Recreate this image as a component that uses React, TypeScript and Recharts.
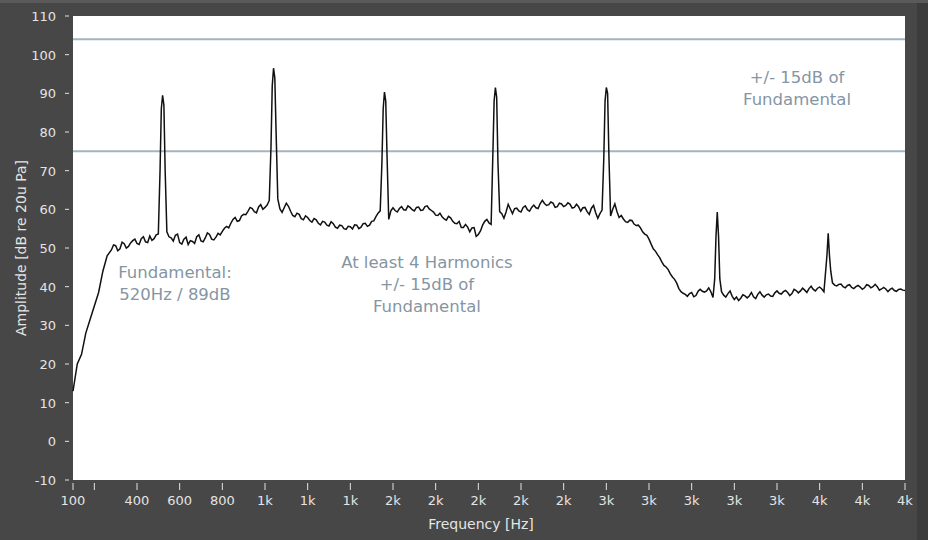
import { LineChart, Line, XAxis, YAxis, CartesianGrid, ReferenceLine, ReferenceDot, Label } from 'recharts'

// spectrum (Hz / dB re 20uPa)
const freqHz = [
  100, 120, 140, 160, 180, 200, 220, 240, 260, 280,
  300, 320, 340, 360, 380, 400, 420, 440, 460, 480,
  500, 508, 514, 520, 526, 532, 540, 560, 580, 600,
  620, 640, 660, 680, 700, 720, 740, 760, 780, 800,
  820, 840, 860, 880, 900, 920, 940, 960, 980, 1000,
  1020, 1028, 1034, 1040, 1046, 1052, 1060, 1080, 1100, 1120,
  1140, 1160, 1180, 1200, 1220, 1240, 1260, 1280, 1300, 1320,
  1340, 1360, 1380, 1400, 1420, 1440, 1460, 1480, 1500, 1520,
  1540, 1548, 1554, 1560, 1566, 1572, 1580, 1600, 1620, 1640,
  1660, 1680, 1700, 1720, 1740, 1760, 1780, 1800, 1820, 1840,
  1860, 1880, 1900, 1920, 1940, 1960, 1980, 2000, 2020, 2040,
  2060, 2068, 2074, 2080, 2086, 2092, 2100, 2120, 2140, 2160,
  2180, 2200, 2220, 2240, 2260, 2280, 2300, 2320, 2340, 2360,
  2380, 2400, 2420, 2440, 2460, 2480, 2500, 2520, 2540, 2560,
  2580, 2588, 2594, 2600, 2606, 2612, 2620, 2640, 2660, 2680,
  2700, 2720, 2740, 2760, 2780, 2800, 2820, 2840, 2860, 2880,
  2900, 2920, 2940, 2960, 2980, 3000, 3020, 3040, 3060, 3080,
  3100, 3108, 3114, 3120, 3126, 3132, 3140, 3160, 3180, 3200,
  3220, 3240, 3260, 3280, 3300, 3320, 3340, 3360, 3380, 3400,
  3420, 3440, 3460, 3480, 3500, 3520, 3540, 3560, 3580, 3600,
  3620, 3628, 3634, 3640, 3646, 3652, 3660, 3680, 3700, 3720,
  3740, 3760, 3780, 3800, 3820, 3840, 3860, 3880, 3900, 3920,
  3940, 3960, 3980, 4000,
]

const levelDb = [
  13, 20, 22.5, 28, 31.5, 35, 38.5, 44, 48, 49.5,
  50.6, 49.8, 51.1, 50.4, 51.9, 51.2, 52.4, 51.6, 53.1, 52.4,
  53.6, 70, 86, 89.5, 87, 70, 54.2, 52.6, 53.3, 51.4,
  52.3, 50.9, 51.7, 52.9, 51.8, 52.6, 53.5, 52.1, 53.8, 54.3,
  55.6, 56.4, 57.9, 57.1, 58.7, 59.5, 60.2, 59.1, 61.2, 60.5,
  62.3, 76, 92, 96.5, 94, 80, 62.7, 59.2, 61.6, 59.5,
  58.1, 58.7, 57.3, 57.9, 56.7, 57.3, 56, 56.7, 55.7, 56.3,
  55.1, 55.8, 54.8, 55.5, 56, 55, 56.3, 55.6, 56.9, 58.1,
  59.6, 72, 86, 90.3, 88, 74, 57.4, 60.4, 59.3, 60.7,
  59.8, 60.5, 59.6, 60.6, 59.8, 60.9, 59.7, 58.5, 59, 57.5,
  58.2, 56.9, 56.3, 55.3, 56.1, 54.2, 55.3, 53.5, 55.9, 57.4,
  56.1, 74, 88, 91.5, 89, 72, 59.4, 57.7, 61.3, 58.9,
  60.3, 59.3, 60.9, 59.5, 61.1, 60.2, 62.3, 61, 61.9, 60.5,
  61.6, 60.7, 61.7, 60.3, 61.3, 59.5, 60.5, 58.7, 61, 57.7,
  59.8, 73, 88, 91.5, 90, 74, 58.3, 61.4, 57.9, 57.5,
  56.6, 57.1, 55.8, 55.2, 53.6, 52.3, 49.8, 48.3, 46.4, 45.1,
  43.3, 41.9, 39.5, 38.3, 37.5, 38.5, 37.7, 39.3, 38.6, 39.7,
  37.2, 42, 53, 59.3, 53, 42, 38.7, 37.3, 38.9, 36.7,
  36.4, 37.9, 37.1, 38.5, 36.9, 38.7, 37.3, 38.1, 37.5, 38.9,
  38.1, 39, 37.7, 39.3, 38.4, 39.6, 38.5, 40.1, 38.9, 39.9,
  38.7, 44, 48, 53.8, 48, 44, 41, 40.2, 40.7, 39.7,
  40.5, 39.5, 40.3, 39.3, 40.5, 39.7, 40.6, 39.1, 39.8, 38.7,
  39.6, 38.8, 39.4, 39,
]

// extra in-between bins of the noise floor
const detailHz = [
  290, 310, 330, 350, 370, 390, 410, 430, 450, 470,
  490, 550, 570, 590, 610, 630, 650, 670, 690, 710,
  730, 750, 770, 790, 810, 830, 850, 870, 890, 910,
  930, 950, 970, 990, 1010, 1070, 1090, 1110, 1130, 1150,
  1170, 1190, 1210, 1230, 1250, 1270, 1290, 1310, 1330, 1350,
  1370, 1390, 1410, 1430, 1450, 1470, 1490, 1510, 1530, 1590,
  1610, 1630, 1650, 1670, 1690, 1710, 1730, 1750, 1770, 1790,
  1810, 1830, 1850, 1870, 1890, 1910, 1930, 1950, 1970, 1990,
  2010, 2030, 2050, 2110, 2130, 2150, 2170, 2190, 2210, 2230,
  2250, 2270, 2290, 2310, 2330, 2350, 2370, 2390, 2410, 2430,
  2450, 2470, 2490, 2510, 2530, 2550, 2570, 2630, 2650, 2670,
  2690, 2710, 2730, 2750, 2770, 2790, 2810, 2830, 2850, 2870,
  2890, 2910, 2930, 2950, 2970, 2990, 3010, 3030, 3050, 3070,
  3090, 3150, 3170, 3190, 3210, 3230, 3250, 3270, 3290, 3310,
  3330, 3350, 3370, 3390, 3410, 3430, 3450, 3470, 3490, 3510,
  3530, 3550, 3570, 3590, 3610, 3670, 3690, 3710, 3730, 3750,
  3770, 3790, 3810, 3830, 3850, 3870, 3890, 3910, 3930, 3950,
  3970, 3990,
]

const detailDb = [
  50.8, 49.3, 51.5, 50.0, 51.3, 52.3, 50.9, 52.9, 51.4, 52.0,
  53.4, 52.9, 51.8, 53.6, 51.0, 52.8, 51.9, 51.2, 53.4, 51.6,
  53.9, 52.3, 52.8, 53.4, 55.1, 55.2, 57.4, 56.9, 58.3, 58.6,
  60.5, 59.4, 60.6, 60.0, 61.1, 60.1, 60.4, 60.8, 58.4, 59.0,
  57.6, 58.3, 57.1, 57.6, 56.4, 56.9, 55.9, 56.8, 55.4, 55.9,
  55.0, 55.6, 54.9, 55.9, 55.4, 56.4, 55.9, 57.0, 59.0, 59.6,
  59.7, 60.2, 59.9, 60.9, 59.9, 60.5, 59.7, 60.7, 60.1, 59.3,
  58.4, 58.1, 57.2, 57.8, 56.4, 56.9, 55.3, 55.4, 55.2, 53.0,
  54.4, 56.9, 56.5, 58.9, 59.3, 60.1, 60.2, 59.6, 60.5, 59.9,
  60.5, 60.4, 61.5, 61.5, 61.2, 61.6, 60.7, 61.4, 61.0, 61.3,
  60.5, 60.7, 60.4, 59.4, 60.3, 59.1, 58.9, 60.0, 59.4, 58.4,
  56.8, 57.2, 56.2, 55.9, 54.2, 53.3, 51.0, 49.2, 47.5, 45.5,
  44.4, 42.5, 40.9, 38.7, 38.0, 38.2, 37.4, 38.8, 38.8, 38.9,
  38.7, 37.8, 38.2, 37.5, 37.3, 37.0, 37.6, 37.6, 37.4, 38.0,
  37.8, 37.9, 37.6, 38.4, 38.3, 38.7, 38.5, 38.2, 39.0, 38.9,
  39.1, 39.5, 39.3, 39.6, 39.4, 40.4, 40.6, 40.0, 40.3, 39.8,
  40.0, 39.9, 39.7, 40.3, 40.0, 40.0, 39.4, 39.4, 39.3, 39.0,
  39.3, 39.1,
]

const freqTicks = [100, 200, 400, 600, 800, 1000, 1200, 1400, 1600, 1800, 2000, 2200, 2400, 2600, 2800, 3000, 3200, 3400, 3600, 3800, 4000]
const freqTickLabels = ['100', '', '400', '600', '800', '1k', '1k', '1k', '2k', '2k', '2k', '2k', '2k', '3k', '3k', '3k', '3k', '3k', '4k', '4k', '4k']
const dbTicks = [-10, 0, 10, 20, 30, 40, 50, 60, 70, 80, 90, 100, 110]

// +/- 15dB band around the fundamental
const bandDb = [104, 75]

const noteHz = [578, 1759, 3494]
const noteDb = [43.8, 46.4, 94.2]
const noteLines = [
  ['Fundamental:', '520Hz / 89dB'],
  ['At least 4 Harmonics', '+/- 15dB of', 'Fundamental'],
  ['+/- 15dB of', 'Fundamental'],
]

const data = [
  ...freqHz.map((hz, i) => ({ hz, db: levelDb[i] })),
  ...detailHz.map((hz, i) => ({ hz, db: detailDb[i] })),
].sort((a, b) => a.hz - b.hz)

const FONT = '"DejaVu Sans", Verdana, sans-serif'
const AXIS_TEXT = '#e4e4e4'
const NOTE_COLOR = '#8595a3'
const BAND_COLOR = '#a2b4c0'

function FreqTick(props: any) {
  const { x, y, index } = props
  return (
    <g>
      <line x1={x} x2={x} y1={y + 3} y2={y + 10} stroke={AXIS_TEXT} strokeWidth={1} />
      <text x={x} y={y + 25} textAnchor="middle" fill={AXIS_TEXT} fontSize={13} fontFamily={FONT}>
        {freqTickLabels[index]}
      </text>
    </g>
  )
}

function DbTick(props: any) {
  const { x, y, payload } = props
  return (
    <g>
      <line x1={x - 8} x2={x - 4} y1={y} y2={y} stroke={AXIS_TEXT} strokeWidth={1} />
      <text x={x - 17} y={y + 5} textAnchor="end" fill={AXIS_TEXT} fontSize={13} fontFamily={FONT}>
        {payload.value}
      </text>
    </g>
  )
}

function noteShape(lines: string[]) {
  return (props: any) => (
    <text textAnchor="middle" fill={NOTE_COLOR} fontSize={16.5} fontFamily={FONT}>
      {lines.map((l, i) => (
        <tspan key={i} x={props.cx} y={props.cy + 6 + i * 22}>{l}</tspan>
      ))}
    </text>
  )
}

export default function App() {
  return (
    <div style={{ position: 'absolute', left: 0, top: 0, width: 928, height: 540, background: '#474747' }}>
      <div style={{ position: 'absolute', right: 0, top: 0, width: 11, height: 540, background: '#3c3c3c' }} />
      <div style={{ position: 'absolute', left: 0, top: 0, width: 928, height: 3, background: '#5a5a5a' }} />
      <LineChart width={928} height={540} data={data} margin={{ top: 16, right: 23, bottom: 0, left: 0 }}>
        <CartesianGrid fill="#ffffff" stroke="none" horizontal={false} vertical={false} />
        <XAxis
          dataKey="hz"
          type="number"
          domain={[100, 4000]}
          ticks={freqTicks}
          interval={0}
          height={60}
          axisLine={false}
          tickLine={false}
          tickSize={0}
          tickMargin={0}
          tick={<FreqTick />}
        >
          <Label value="Frequency [Hz]" position="insideBottom" offset={11} dx={-8} fill={AXIS_TEXT} fontSize={14} fontFamily={FONT} />
        </XAxis>
        <YAxis
          type="number"
          domain={[-10, 110]}
          ticks={dbTicks}
          interval={0}
          width={73}
          axisLine={false}
          tickLine={false}
          tickSize={0}
          tickMargin={0}
          tick={<DbTick />}
        >
          <Label
            value="Amplitude [dB re 20u Pa]"
            angle={-90}
            position="insideLeft"
            offset={16}
            dx={5}
            fill={AXIS_TEXT}
            fontSize={14}
            fontFamily={FONT}
            style={{ textAnchor: 'middle' }}
          />
        </YAxis>
        {bandDb.map(v => (
          <ReferenceLine key={v} y={v} stroke={BAND_COLOR} strokeWidth={2} />
        ))}
        <Line
          type="linear"
          dataKey="db"
          stroke="#111111"
          strokeWidth={1.5}
          dot={false}
          isAnimationActive={false}
        />
        {noteHz.map((hz, i) => (
          <ReferenceDot key={hz} x={hz} y={noteDb[i]} r={0} shape={noteShape(noteLines[i])} />
        ))}
      </LineChart>
    </div>
  )
}
